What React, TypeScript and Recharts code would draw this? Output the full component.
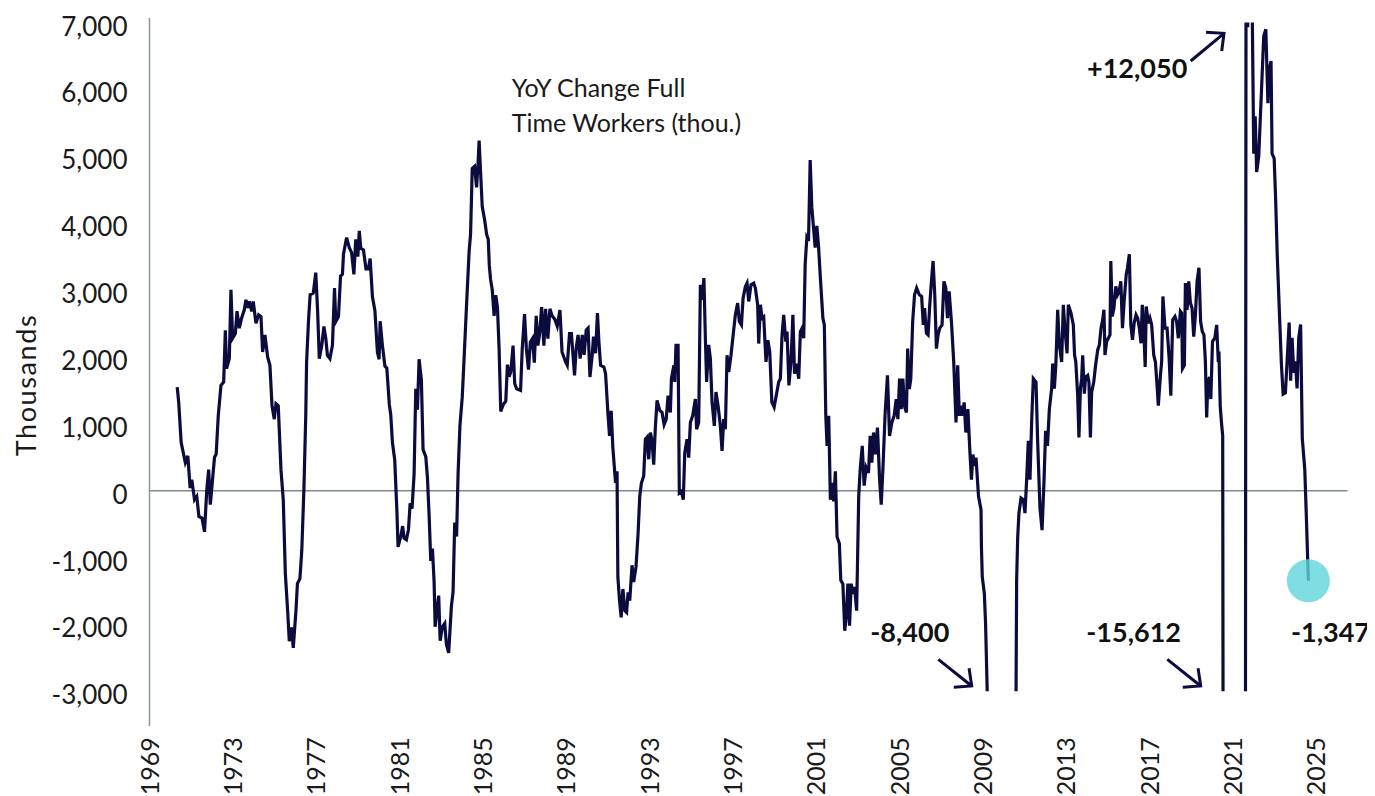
import React from "react";
import { LineChart, Line, XAxis, YAxis, ReferenceLine, ReferenceDot } from "recharts";

// YoY change in full-time workers (thousands), [decimal year, value]
const obs1970s: [number, number][] = [
  [1970.33, 1550], [1970.4, 1330], [1970.52, 720], [1970.72, 420], [1970.84, 520], [1970.95, 40],
  [1971.03, 165], [1971.16, -135], [1971.27, -85], [1971.37, -385], [1971.52, -410], [1971.64, -615],
  [1971.75, 15], [1971.84, 315], [1971.92, -210], [1972.12, 500], [1972.2, 545], [1972.3, 1120],
  [1972.43, 1575], [1972.56, 1625], [1972.64, 2400], [1972.7, 1825], [1972.83, 1975], [1972.91, 3005],
  [1972.99, 2280], [1973.12, 2350], [1973.2, 2685], [1973.31, 2430], [1973.42, 2580], [1973.55, 2705],
  [1973.63, 2855], [1973.72, 2735], [1973.79, 2830], [1973.91, 2680], [1973.98, 2830], [1974.11, 2505],
  [1974.24, 2630], [1974.35, 2605], [1974.43, 2075], [1974.54, 2330], [1974.67, 2000], [1974.78, 1875],
  [1974.88, 1270], [1974.99, 1070], [1975.07, 1300], [1975.18, 1270], [1975.31, 315], [1975.42, -135],
  [1975.52, -1240], [1975.63, -1795], [1975.71, -2250], [1975.82, -2045], [1975.9, -2350], [1976.03, -1795],
  [1976.1, -1390], [1976.22, -1315], [1976.31, -890], [1976.41, 15], [1976.5, 1120], [1976.54, 1925],
  [1976.63, 2530], [1976.71, 2930], [1976.86, 2955], [1976.98, 3260], [1977.07, 2680], [1977.15, 1975],
  [1977.27, 2175], [1977.37, 2455], [1977.46, 2280], [1977.54, 2025], [1977.66, 1975], [1977.78, 2175],
  [1977.88, 3030], [1977.94, 2530], [1978.07, 2605], [1978.17, 3210], [1978.26, 3235], [1978.31, 3535],
  [1978.46, 3785], [1978.59, 3635], [1978.7, 3560], [1978.81, 3235], [1978.9, 3760], [1979.0, 3500],
  [1979.07, 3885], [1979.14, 3625], [1979.27, 3600], [1979.39, 3315], [1979.5, 3315], [1979.59, 3470],
  [1979.7, 2900], [1979.82, 2690], [1979.94, 2070],
];

const obs1980s: [number, number][] = [
  [1980.02, 1965], [1980.07, 2535], [1980.18, 2170], [1980.3, 1860], [1980.39, 1835], [1980.51, 1290],
  [1980.58, 1135], [1980.66, 720], [1980.77, 460], [1980.87, -270], [1980.93, -840], [1981.06, -685],
  [1981.15, -530], [1981.22, -710], [1981.33, -735], [1981.43, -580], [1981.51, -190], [1981.6, -270],
  [1981.7, 250], [1981.78, 1525], [1981.86, 1210], [1981.94, 1965], [1982.05, 1655], [1982.13, 615],
  [1982.26, 510], [1982.34, 200], [1982.42, -370], [1982.5, -1050], [1982.58, -865], [1982.66, -1360],
  [1982.71, -2035], [1982.82, -1725], [1982.88, -1570], [1982.95, -2245], [1983.06, -2035], [1983.17, -1985],
  [1983.25, -2295], [1983.36, -2425], [1983.49, -1725], [1983.57, -1515], [1983.65, -475], [1983.74, -685],
  [1983.81, 250], [1983.9, 975], [1984.01, 1395], [1984.09, 1915], [1984.22, 2795], [1984.34, 3575],
  [1984.41, 3835], [1984.49, 4820], [1984.6, 4850], [1984.7, 4535], [1984.77, 4900], [1984.82, 5235],
  [1984.89, 4770], [1984.97, 4250], [1985.09, 4040], [1985.18, 3835], [1985.26, 3755], [1985.31, 3365],
  [1985.37, 3160], [1985.45, 3005], [1985.54, 2615], [1985.62, 2925], [1985.7, 2745], [1985.78, 2120],
  [1985.86, 1185], [1985.98, 1290], [1986.1, 1340], [1986.18, 1885], [1986.26, 1705], [1986.34, 1780],
  [1986.45, 2170], [1986.53, 1600], [1986.62, 1525], [1986.81, 1500], [1986.89, 2120], [1987.0, 2640],
  [1987.09, 2120], [1987.19, 1810], [1987.28, 2225], [1987.38, 2275], [1987.47, 1915], [1987.56, 2615],
  [1987.64, 2170], [1987.72, 2330], [1987.82, 2745], [1987.93, 2170], [1988.01, 2720], [1988.12, 2275],
  [1988.22, 2720], [1988.32, 2615], [1988.45, 2565], [1988.57, 2460], [1988.7, 2700], [1988.8, 2075],
  [1988.97, 1925], [1989.05, 1875], [1989.16, 2350], [1989.25, 2350], [1989.4, 1725], [1989.48, 2130],
  [1989.57, 2330], [1989.67, 1975], [1989.77, 2330], [1989.86, 2030], [1989.96, 2400],
];

const obs1990s: [number, number][] = [
  [1990.05, 2430], [1990.14, 1700], [1990.25, 2030], [1990.31, 2305], [1990.41, 2055], [1990.5, 2655],
  [1990.57, 2230], [1990.65, 1875], [1990.81, 1850], [1990.89, 1750], [1991.0, 1170], [1991.08, 820],
  [1991.16, 1195], [1991.24, 640], [1991.37, 115], [1991.44, 290], [1991.48, -1290], [1991.56, -1645],
  [1991.64, -1895], [1991.72, -1470], [1991.82, -1795], [1991.9, -1820], [1991.97, -1520], [1992.05, -1645],
  [1992.16, -1115], [1992.24, -1365], [1992.35, -1140], [1992.45, -640], [1992.53, -85], [1992.61, 115],
  [1992.72, 220], [1992.8, 770], [1992.88, 800], [1992.96, 470], [1993.04, 870], [1993.12, 750],
  [1993.2, 390], [1993.28, 950], [1993.36, 1350], [1993.49, 1200], [1993.6, 1170], [1993.7, 990],
  [1993.8, 1070], [1993.89, 1420], [1994.0, 1170], [1994.05, 1675], [1994.17, 1875], [1994.21, 1625],
  [1994.27, 2175], [1994.37, 2175], [1994.43, -35], [1994.53, -10], [1994.62, -135], [1994.69, 565],
  [1994.8, 770], [1994.88, 495], [1994.96, 1020], [1995.07, 1120], [1995.2, 1370], [1995.26, 920],
  [1995.36, 1020], [1995.44, 3080], [1995.52, 2855], [1995.61, 3180], [1995.68, 2280], [1995.74, 1625],
  [1995.84, 2180], [1995.92, 1975], [1996.0, 1325], [1996.11, 970], [1996.19, 1475], [1996.29, 1270],
  [1996.4, 970], [1996.48, 595], [1996.56, 1070], [1996.64, 920], [1996.72, 2025], [1996.8, 1775],
  [1996.91, 2025], [1997.02, 2350], [1997.12, 2630], [1997.23, 2805], [1997.31, 2530], [1997.41, 2480],
  [1997.49, 2880], [1997.6, 3055], [1997.68, 3105], [1997.76, 2830], [1997.87, 3080], [1998.0, 3105],
  [1998.08, 3030], [1998.19, 2780], [1998.24, 2200], [1998.32, 2780], [1998.4, 2580], [1998.48, 2600],
  [1998.59, 1925], [1998.68, 2250], [1998.77, 2080], [1998.87, 1325], [1998.98, 1250], [1999.08, 1420],
  [1999.2, 1625], [1999.28, 1675], [1999.36, 2330], [1999.44, 2630], [1999.54, 2230], [1999.6, 2380],
  [1999.69, 1575], [1999.79, 1925], [1999.88, 2630], [1999.96, 1750],
];

const obs2000s: [number, number][] = [
  [2000.06, 1900], [2000.16, 1675], [2000.24, 2380], [2000.32, 2430], [2000.4, 2280], [2000.47, 3385],
  [2000.55, 3785], [2000.63, 3735], [2000.71, 4945], [2000.79, 4240], [2000.87, 3935], [2000.95, 3635],
  [2001.03, 3960], [2001.11, 3660], [2001.19, 3235], [2001.32, 2580], [2001.39, 2480], [2001.46, 1120],
  [2001.52, 670], [2001.6, 1120], [2001.68, -135], [2001.76, 115], [2001.84, -160], [2001.92, 290],
  [2002.0, -690], [2002.11, -790], [2002.18, -1340], [2002.28, -1395], [2002.37, -2095], [2002.45, -1845],
  [2002.52, -1390], [2002.6, -2020], [2002.68, -1390], [2002.76, -1545], [2002.84, -1440], [2002.94, -1795],
  [2003.04, -85], [2003.11, 315], [2003.21, 670], [2003.3, 75], [2003.4, 345], [2003.51, 265],
  [2003.59, 820], [2003.67, 420], [2003.75, 870], [2003.85, 545], [2003.94, 945], [2004.04, 185],
  [2004.12, -210], [2004.2, 315], [2004.31, 1170], [2004.42, 1725], [2004.52, 820], [2004.63, 1020],
  [2004.74, 1120], [2004.84, 1370], [2004.92, 1070], [2005.0, 1675], [2005.08, 1220], [2005.16, 1675],
  [2005.23, 1270], [2005.33, 1170], [2005.39, 2125], [2005.47, 1520], [2005.54, 1675], [2005.63, 2530],
  [2005.72, 2930], [2005.82, 3030], [2005.95, 2930], [2006.06, 2905], [2006.14, 2480], [2006.2, 2730],
  [2006.29, 2355], [2006.37, 2330], [2006.45, 2780], [2006.53, 3130], [2006.61, 3435], [2006.69, 2930],
  [2006.77, 2125], [2006.85, 2330], [2006.93, 2430], [2007.04, 2480], [2007.13, 3130], [2007.22, 3030],
  [2007.3, 2580], [2007.38, 2980], [2007.49, 2530], [2007.6, 1925], [2007.71, 1020], [2007.79, 1875],
  [2007.87, 1120], [2007.96, 1270], [2008.03, 1120], [2008.1, 1320], [2008.18, 870], [2008.28, 1220],
  [2008.37, 620], [2008.45, 165], [2008.52, 540], [2008.6, 370], [2008.67, 495], [2008.79, -85],
  [2008.91, -285], [2008.93, -840], [2008.97, -1290], [2009.07, -1540], [2009.13, -2000], [2009.3, -4200],
  [2009.45, -5600], [2009.6, -7000], [2009.75, -8400], [2009.9, -8100], [2010.05, -7800], [2010.2, -7200],
  [2010.35, -6800], [2010.54, -6000],
];

const obs2010s: [number, number][] = [
  [2010.62, -1340], [2010.67, -700], [2010.73, -335], [2010.83, -110], [2010.94, -135], [2011.02, -335],
  [2011.1, 165], [2011.18, 745], [2011.26, 165], [2011.34, 1030], [2011.42, 1675], [2011.55, 1625],
  [2011.63, 720], [2011.74, -260], [2011.84, -590], [2011.93, 115], [2012.01, 895], [2012.1, 670],
  [2012.19, 1220], [2012.3, 1525], [2012.35, 1900], [2012.43, 1525], [2012.5, 1875], [2012.59, 2705],
  [2012.67, 2180], [2012.78, 1925], [2012.86, 2780], [2012.94, 2405], [2013.04, 2055], [2013.1, 2780],
  [2013.23, 2655], [2013.34, 2480], [2013.4, 2030], [2013.46, 1925], [2013.55, 1420], [2013.61, 795],
  [2013.68, 1525], [2013.74, 1675], [2013.79, 2025], [2013.87, 1450], [2013.93, 1700], [2014.03, 1725],
  [2014.09, 1625], [2014.16, 795], [2014.22, 1475], [2014.32, 1625], [2014.41, 1875], [2014.51, 2105],
  [2014.59, 2180], [2014.67, 2430], [2014.75, 2555], [2014.81, 2705], [2014.86, 2030], [2014.94, 2230],
  [2015.02, 2280], [2015.1, 2330], [2015.14, 3435], [2015.21, 2605], [2015.29, 2730], [2015.38, 3055],
  [2015.46, 2930], [2015.54, 2980], [2015.62, 3130], [2015.7, 2430], [2015.78, 2830], [2015.88, 3235],
  [2015.94, 3335], [2016.03, 3535], [2016.1, 2480], [2016.18, 2255], [2016.26, 2505], [2016.35, 2630],
  [2016.43, 2580], [2016.51, 2430], [2016.59, 2205], [2016.65, 2780], [2016.72, 2430], [2016.79, 1850],
  [2016.84, 2755], [2016.94, 2505], [2017.02, 2580], [2017.1, 2480], [2017.2, 2030], [2017.28, 1925],
  [2017.36, 1575], [2017.42, 1270], [2017.52, 1725], [2017.58, 1925], [2017.64, 2905], [2017.74, 2430],
  [2017.84, 2430], [2017.94, 1975], [2018.02, 1420], [2018.11, 2555], [2018.22, 2605], [2018.3, 2530],
  [2018.38, 2280], [2018.48, 2680], [2018.54, 2655], [2018.58, 1825], [2018.67, 1875], [2018.72, 3105],
  [2018.8, 2705], [2018.88, 3130], [2018.96, 2805], [2019.04, 2730], [2019.12, 2305], [2019.2, 2630],
  [2019.28, 3130], [2019.37, 3335], [2019.45, 2530], [2019.53, 2380], [2019.61, 2330], [2019.68, 1925],
  [2019.74, 1095], [2019.8, 1625], [2019.88, 1700], [2019.94, 1370],
];

const obs2020s: [number, number][] = [
  [2020.02, 2230], [2020.13, 2280], [2020.22, 2480], [2020.3, 1925], [2020.33, 2080], [2020.39, 1270],
  [2020.45, 1020], [2020.51, 820], [2020.58, -15612], [2020.68, -12500], [2020.77, -10500], [2020.85, -9800],
  [2020.93, -9000], [2021.02, -8500], [2021.1, -8000], [2021.18, -7000], [2021.27, -6500], [2021.35, -6000],
  [2021.43, -5500], [2021.52, -5000], [2021.6, -4500], [2021.64, 12050], [2021.71, 6930], [2021.77, 9200],
  [2021.9, 8000], [2022.0, 5040], [2022.07, 5600], [2022.14, 4765], [2022.24, 5000], [2022.48, 6800],
  [2022.58, 6900], [2022.68, 5795], [2022.75, 6300], [2022.83, 6425], [2022.88, 5040], [2022.98, 4970],
  [2023.05, 4365], [2023.13, 3500], [2023.25, 2515], [2023.33, 1880], [2023.41, 1445], [2023.52, 1465],
  [2023.62, 2050], [2023.7, 2515], [2023.77, 1645], [2023.84, 2285], [2023.92, 1765], [2024.0, 1935],
  [2024.08, 1530], [2024.16, 2285], [2024.25, 2485], [2024.33, 780], [2024.45, 315], [2024.53, -435],
  [2024.62, -1347],
];

const yearTicks = [1969, 1973, 1977, 1981, 1985, 1989, 1993, 1997, 2001, 2005, 2009, 2013, 2017, 2021, 2025];
const valueTicks = [-3000, -2000, -1000, 0, 1000, 2000, 3000, 4000, 5000, 6000, 7000];

const data = [...obs1970s, ...obs1980s, ...obs1990s, ...obs2000s, ...obs2010s, ...obs2020s].map(
  ([year, value]) => ({ year, value })
);
const latest = data[data.length - 1];

const FONT = "Lato, 'Noto Sans', sans-serif";
const NAVY = "#0c0b3e";
const W = 1367;
const H = 788;

const XTick = (props: any) => {
  const { x, y, payload } = props;
  return (
    <g transform={`translate(${x},${y})`}>
      <text transform="rotate(-90)" textAnchor="end" dy={9} fontSize={25} fill="#1a1a1a" fontFamily={FONT}>
        {payload.value}
      </text>
    </g>
  );
};

const YTick = (props: any) => {
  const { x, y, payload } = props;
  return (
    <text x={x} y={y} dy={13} textAnchor="end" fontSize={26} fill="#1a1a1a" fontFamily={FONT}>
      {Number(payload.value).toLocaleString("en-US")}
    </text>
  );
};

const Arrow = ({ x1, y1, x2, y2 }: { x1: number; y1: number; x2: number; y2: number }) => {
  const a = Math.atan2(y2 - y1, x2 - x1);
  const len = 18;
  const spread = 0.75;
  const p1 = [x2 - len * Math.cos(a - spread), y2 - len * Math.sin(a - spread)];
  const p2 = [x2 - len * Math.cos(a + spread), y2 - len * Math.sin(a + spread)];
  return (
    <g stroke={NAVY} strokeWidth={3} fill="none">
      <line x1={x1} y1={y1} x2={x2} y2={y2} />
      <polyline points={`${p1[0]},${p1[1]} ${x2},${y2} ${p2[0]},${p2[1]}`} />
    </g>
  );
};

const bold = { fontFamily: FONT, fontWeight: 700, fontSize: 27, fill: "#111" } as const;

export default function App() {
  return (
    <div style={{ position: "relative", width: W, height: H, fontFamily: FONT }}>
      <LineChart width={W} height={H} data={data} margin={{ top: 14.6, right: 27.5, bottom: 4.7, left: 0 }}>
        <XAxis
          type="number"
          dataKey="year"
          domain={[1969, 2026.5]}
          ticks={yearTicks}
          interval={0}
          axisLine={false}
          tickLine={false}
          tickSize={0}
          tickMargin={46}
          height={100}
          tick={<XTick />}
        />
        <YAxis
          type="number"
          domain={[-3000, 7000]}
          allowDataOverflow
          ticks={valueTicks}
          interval={0}
          axisLine={false}
          tickLine={false}
          tickSize={0}
          tickMargin={22}
          width={141.5}
          tick={<YTick />}
        />
        <ReferenceLine
          segment={[{ x: 1969, y: 7069 }, { x: 1969, y: -3519 }]}
          ifOverflow="visible"
          stroke="#8c97a1"
          strokeWidth={1.5}
        />
        <ReferenceLine y={0} stroke="#7d8a96" strokeWidth={1.5} />
        <Line
          type="linear"
          dataKey="value"
          stroke={NAVY}
          strokeWidth={3.2}
          dot={false}
          isAnimationActive={false}
        />
        <ReferenceDot
          x={latest.year}
          y={latest.value}
          r={21.5}
          fill="#5fd6db"
          fillOpacity={0.8}
          stroke="none"
        />
      </LineChart>
      <svg width={W} height={H} style={{ position: "absolute", left: 0, top: 0, pointerEvents: "none" }}>
        <text
          transform="translate(28,377) rotate(-90)"
          textAnchor="middle"
          fontSize={27}
          letterSpacing={1.6}
          fill="#1a1a1a"
          fontFamily={FONT}
        >
          Thousands
        </text>
        <text x={503.7} y={88.7} fontSize={25} fill="#1a1a1a" fontFamily={FONT}>
          YoY Change Full
        </text>
        <text x={503.7} y={123.7} fontSize={25} fill="#1a1a1a" fontFamily={FONT}>
          Time Workers (thou.)
        </text>
        <text x={1179.3} y={70.3} textAnchor="end" {...bold}>+12,050</text>
        <text x={941.3} y={634.3} textAnchor="end" {...bold}>-8,400</text>
        <text x={1173} y={634.3} textAnchor="end" {...bold}>-15,612</text>
        <text x={1362} y={634.3} textAnchor="end" {...bold}>-1,347</text>
        <Arrow x1={1182.7} y1={53} x2={1216} y2={25.3} />
        <Arrow x1={930.3} y1={651.3} x2={963.7} y2={678} />
        <Arrow x1={1159.3} y1={651.3} x2={1192.7} y2={678} />
      </svg>
    </div>
  );
}
